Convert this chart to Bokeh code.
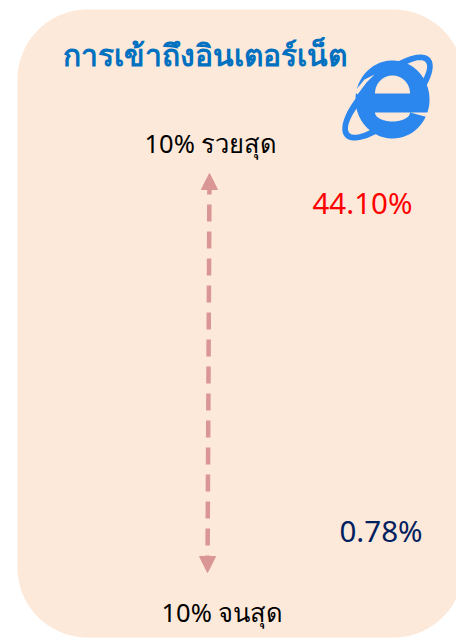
import numpy as np
from bokeh.plotting import figure
from bokeh.models import Arrow, NormalHead, Range1d
from bokeh.core.properties import value
from bokeh.embed import file_html
from bokeh.resources import INLINE

title_text = ["การเข้าถึงอินเตอร์เน็ต"]
group_labels = ["10% รวยสุด", "10% จนสุด"]
share_labels = ["44.10%", "0.78%"]

FONT = "Noto Sans"
PANEL = "#FDE9D9"
ARROW = "#D99694"
BLUE = "#2B87EE"

p = figure(width=456, height=638, output_backend="svg", toolbar_location=None,
           x_range=Range1d(0, 456), y_range=Range1d(638, 0), min_border=0)
p.axis.visible = False
p.grid.visible = False
p.outline_line_color = None
p.background_fill_color = "white"


def arc(cx, cy, rx, ry, a0, a1, n=60, rot=0.0):
    t = np.radians(np.linspace(a0, a1, n))
    x, y = rx * np.cos(t), ry * np.sin(t)
    r = np.radians(rot)
    return cx + x * np.cos(r) - y * np.sin(r), cy + x * np.sin(r) + y * np.cos(r)


# rounded panel
L, R, T, B, C = 17, 463, 9, 637, 70
xs, ys = [], []
for cx, cy, a0 in [(L + C, T + C, 180), (R - C, T + C, 270), (R - C, B - C, 0), (L + C, B - C, 90)]:
    ax, ay = arc(cx, cy, C, C, a0, a0 + 90)
    xs.append(ax); ys.append(ay)
p.patch(np.concatenate(xs), np.concatenate(ys), fill_color=PANEL, line_color=None)

# logo: tilted orbit
ox, oy = arc(387, 97, 58, 23, 0, 360, 120, rot=-43)
ix, iy = arc(387, 97, 52, 16, 0, 360, 120, rot=-43)
p.multi_polygons(xs=[[[list(ox), list(ix)]]], ys=[[[list(oy), list(iy)]]], fill_color=BLUE, line_color=None)
# logo: e body
ex, ey = arc(392, 99, 37, 39, 0, 360, 120)
p.patch(ex, ey, fill_color=BLUE, line_color=None)
ux, uy = arc(392, 93, 17.5, 18, 180, 360)
p.patch(ux, uy, fill_color=PANEL, line_color=None)
lx, ly = arc(392, 112, 17.5, 9, 0, 180)
p.patch(np.concatenate([[432, 432], lx]), np.concatenate([[112, 118], ly]), fill_color=PANEL, line_color=None)
p.patch([354, 364, 374, 366, 357], [91, 79, 74, 82, 94], fill_color=PANEL, line_color=None)

# arrow
p.add_layout(Arrow(
    start=NormalHead(size=16, fill_color=ARROW, line_color=ARROW),
    end=NormalHead(size=16, fill_color=ARROW, line_color=ARROW),
    x_start=207, y_start=572, x_end=209, y_end=173,
    line_color=ARROW, line_width=4.5, line_dash="17 10"))

# texts
p.text([62], [54], text=title_text, text_font=value(FONT), text_font_size="30px",
       text_color="#0070C0", text_baseline="alphabetic", text_font_style="bold")
p.text([144, 161], [142, 611], text=group_labels, text_font=value(FONT), text_font_size="25.5px",
       text_color="black", text_baseline="alphabetic")
p.text([312, 339], [202, 530], text=share_labels, text_font=value(FONT), text_font_size="29.5px",
       text_color=["#FF0000", "#002060"], text_baseline="alphabetic")

open("out.html", "w").write(file_html(p, INLINE))
